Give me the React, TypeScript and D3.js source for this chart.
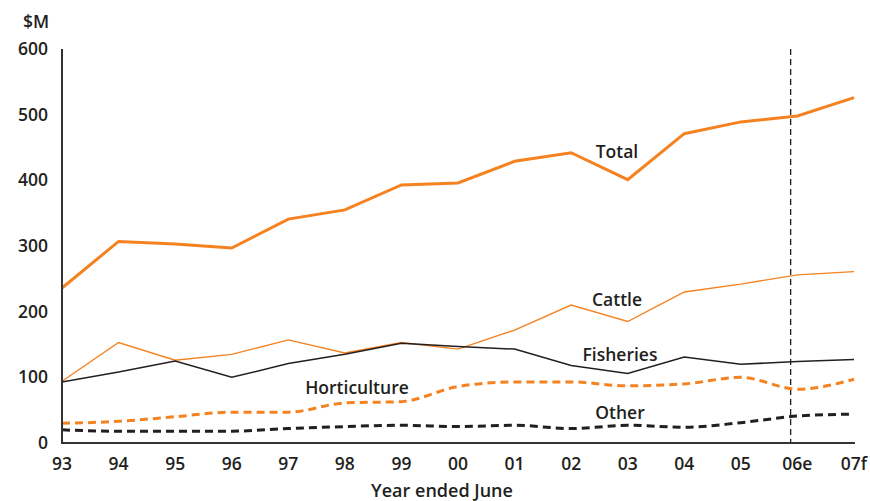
import React from "react";
import * as d3 from "d3";

const years = ["93", "94", "95", "96", "97", "98", "99", "00", "01", "02", "03", "04", "05", "06e", "07f"];
const total = [236, 307, 303, 297, 341, 355, 393, 396, 429, 442, 401, 471, 489, 498, 526];
const cattle = [94, 153, 126, 135, 157, 137, 153, 143, 172, 210, 185, 230, 242, 256, 261];
const fisheries = [93, 108, 125, 100, 121, 135, 152, 147, 143, 118, 106, 131, 120, 124, 127];
const horticulture = [30, 33, 40, 47, 47, 61, 63, 86, 93, 93, 87, 90, 100, 82, 97];
const other = [20, 18, 18, 18, 22, 25, 27, 25, 27, 22, 27, 24, 31, 41, 44];
const yTicks = [0, 100, 200, 300, 400, 500, 600];
const forecastDivider = 12.88;

const ORANGE = "#f58220";
const DARK = "#231f20";
const FONT = "'Open Sans', 'Noto Sans', sans-serif";

export default function App() {
  const W = 870, H = 501;
  const x = d3.scaleLinear().domain([0, years.length - 1]).range([62, 854]);
  const y = d3.scaleLinear().domain([0, 600]).range([443, 49]);
  const lineStraight = d3.line<number>().x((_, i) => x(i)).y((d) => y(d));
  const lineSmooth = d3.line<number>().x((_, i) => x(i)).y((d) => y(d)).curve(d3.curveMonotoneX);

  const series = [
    { data: total, color: ORANGE, width: 3, dash: undefined, gen: lineStraight },
    { data: cattle, color: ORANGE, width: 1.4, dash: undefined, gen: lineStraight },
    { data: fisheries, color: DARK, width: 1.5, dash: undefined, gen: lineStraight },
    { data: horticulture, color: ORANGE, width: 3, dash: "8 5", gen: lineSmooth },
    { data: other, color: DARK, width: 3, dash: "8 5", gen: lineSmooth },
  ];

  const labels = [
    { text: "Total", x: 617, y: 158 },
    { text: "Cattle", x: 617, y: 306 },
    { text: "Fisheries", x: 620, y: 361 },
    { text: "Horticulture", x: 357, y: 394 },
    { text: "Other", x: 620, y: 419 },
  ];

  return (
    <svg width={W} height={H} style={{ position: "absolute", left: 0, top: 0, background: "#fff" }} fontFamily={FONT}>
      <line x1={x(forecastDivider)} x2={x(forecastDivider)} y1={y(600)} y2={y(0)} stroke={DARK} strokeWidth={1.3} strokeDasharray="6 4" />
      {series.map((s, i) => (
        <path key={i} d={s.gen(s.data) || ""} fill="none" stroke={s.color} strokeWidth={s.width} strokeDasharray={s.dash} strokeLinejoin="miter" />
      ))}
      <line x1={x(0)} x2={x(0)} y1={y(600)} y2={y(0) + 1} stroke="#333" strokeWidth={2} />
      <line x1={x(0) - 1} x2={x(years.length - 1) + 1} y1={y(0)} y2={y(0)} stroke="#333" strokeWidth={2} />
      {yTicks.map((t) => (
        <text key={t} x={48} y={y(t) + 6} textAnchor="end" fontSize={17.5} fontWeight={600} fill={DARK}>{t}</text>
      ))}
      {years.map((yr, i) => (
        <text key={yr} x={x(i)} y={470} textAnchor="middle" fontSize={17.5} fontWeight={600} fill={DARK}>{yr}</text>
      ))}
      <text x={36} y={28} textAnchor="middle" fontSize={17.5} fontWeight={600} fill={DARK}>$M</text>
      <text x={442} y={497} textAnchor="middle" fontSize={18} fontWeight={600} fill={DARK}>Year ended June</text>
      {labels.map((l) => (
        <text key={l.text} x={l.x} y={l.y} textAnchor="middle" fontSize={17.5} fontWeight={600} fill={DARK}>{l.text}</text>
      ))}
    </svg>
  );
}
